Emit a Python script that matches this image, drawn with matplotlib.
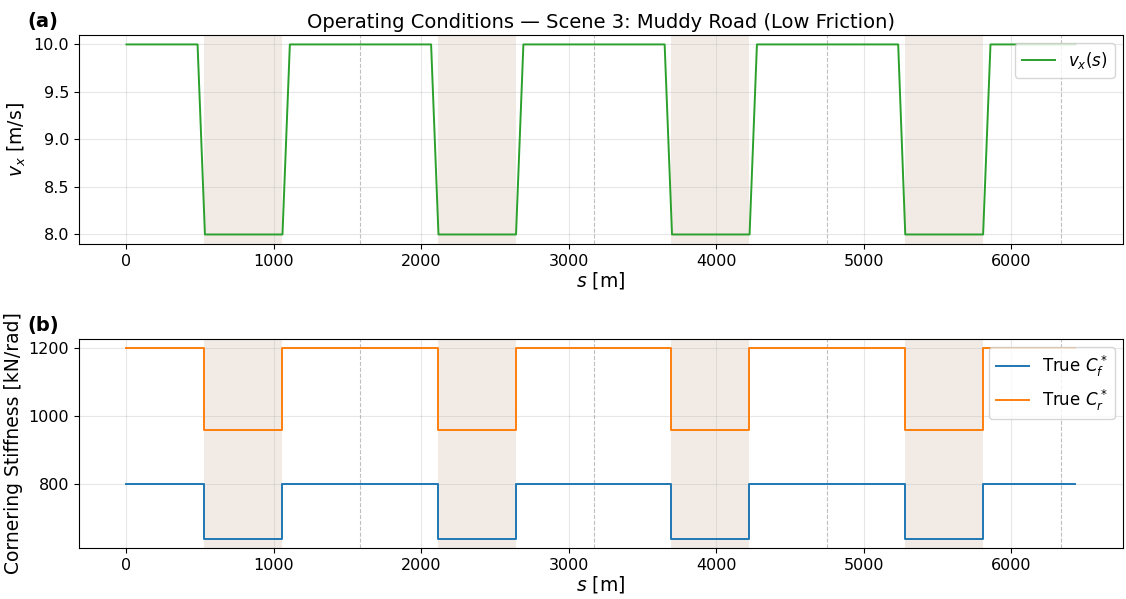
import matplotlib.pyplot as plt
import numpy as np

# lap geometry (m)
lap_len = 1584
s_end = 6436
lap_marks = [1584, 3168, 4752, 6336]
mud_zones = [(528, 1056), (2112, 2640), (3696, 4224), (5280, 5808)]

# longitudinal speed profile (breakpoints)
s_v = [0, 482, 532, 1058, 1108, 2066, 2116, 2642, 2692,
       3650, 3700, 4226, 4276, 5234, 5282, 5810, 5860, 6436]
v_x = [10.0, 10.0, 8.0, 8.0, 10.0, 10.0, 8.0, 8.0, 10.0,
       10.0, 8.0, 8.0, 10.0, 10.0, 8.0, 8.0, 10.0, 10.0]

# true cornering stiffness (kN/rad), piecewise constant
s_c = [0, 528, 1056, 2112, 2640, 3696, 4224, 5280, 5808, 6436]
cf_true = [800, 640, 800, 640, 800, 640, 800, 640, 800, 800]
cr_true = [1200, 960, 1200, 960, 1200, 960, 1200, 960, 1200, 1200]

plt.rcParams['font.family'] = 'DejaVu Sans'

fig = plt.figure(figsize=(11.26, 5.99), dpi=100)
ax1 = fig.add_axes([0.0702, 0.5927, 0.927, 0.349])
ax2 = fig.add_axes([0.0702, 0.0851, 0.927, 0.349])

for ax in (ax1, ax2):
    for a, b in mud_zones:
        ax.axvspan(a, b, color='#f2ebe5', lw=0, zorder=0.5)
    for m in lap_marks:
        ax.axvline(m, color='gray', ls='--', lw=0.8, alpha=0.5)
    ax.grid(True, alpha=0.3)
    ax.tick_params(labelsize=11.5)
    ax.set_xlabel(r'$s$ [m]', fontsize=13.5, labelpad=1)

ax1.plot(s_v, v_x, color='tab:green', lw=1.4, label=r'$v_x(s)$')
ax1.set_ylabel(r'$v_x$ [m/s]', fontsize=13.5)
ax1.set_title('Operating Conditions — Scene 3: Muddy Road (Low Friction)', fontsize=14, pad=5)
ax1.legend(loc='upper right', fontsize=12)

ax2.step(s_c, cf_true, where='post', color='tab:blue', lw=1.4, label=r'True $C_f^*$')
ax2.step(s_c, cr_true, where='post', color='tab:orange', lw=1.4, label=r'True $C_r^*$')
ax2.set_ylabel('Cornering Stiffness [kN/rad]', fontsize=13.5)
ax2.set_yticks([800, 1000, 1200])
ax2.legend(loc='upper right', fontsize=12)

fig.text(0.024, 0.955, '(a)', fontsize=14, fontweight='bold')
fig.text(0.024, 0.448, '(b)', fontsize=14, fontweight='bold')

fig.savefig('out.png', dpi=100)
